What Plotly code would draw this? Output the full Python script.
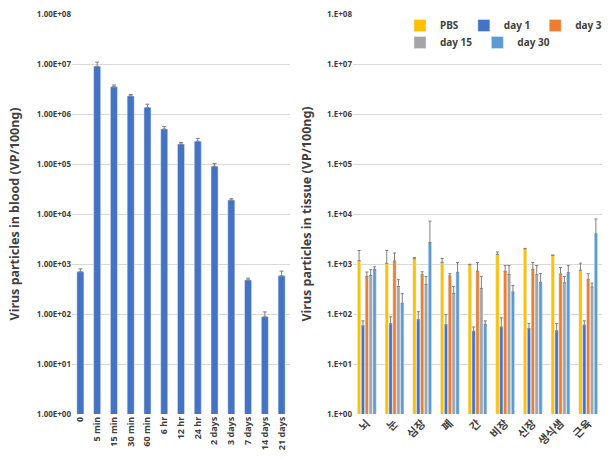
import plotly.graph_objects as go
from plotly.subplots import make_subplots

# ---------- data: blood ----------
time_labels = ['0', '5 min', '15 min', '30 min', '60 min', '6 hr', '12 hr', '24 hr',
               '2 days', '3 days', '7 days', '14 days', '21 days']
blood_vals = [700, 9.0e6, 3.5e6, 2.3e6, 1.35e6, 5.0e5, 2.5e5, 2.85e5, 9.0e4, 1.9e4, 480, 88, 580]
blood_err = [100, 1.9e6, 0.3e6, 0.15e6, 0.22e6, 0.6e5, 0.2e5, 0.4e5, 1.2e4, 0.12e4, 40, 22, 140]

# ---------- data: tissue ----------
tissues = ['뇌', '눈', '심장', '폐', '간', '비장', '신장', '생식샘', '근육']
series_names = ['PBS', 'day 1', 'day 3', 'day 15', 'day 30']
pbs = [1170, 1030, 1280, 1080, 970, 1560, 2000, 1490, 750]
pbs_err = [690, 840, 60, 210, 20, 180, 50, 20, 290]
day1 = [58, 64, 77, 61, 45, 55, 51, 46, 60]
day1_err = [15, 24, 34, 36, 10, 29, 14, 18, 13]
day3 = [565, 1150, 610, 575, 715, 715, 780, 630, 485]
day3_err = [125, 510, 90, 65, 355, 215, 290, 220, 155]
day15 = [590, 355, 390, 258, 325, 620, 610, 420, 345]
day15_err = [180, 130, 170, 97, 240, 315, 320, 145, 70]
day30 = [780, 163, 2700, 680, 62, 275, 430, 670, 3990]
day30_err = [100, 92, 4500, 390, 11, 95, 210, 260, 3960]

tick_vals = [1, 10, 100, 1e3, 1e4, 1e5, 1e6, 1e7, 1e8]
left_ticktext = ['1.00E+00', '1.00E+01', '1.00E+02', '1.00E+03', '1.00E+04',
                 '1.00E+05', '1.00E+06', '1.00E+07', '1.00E+08']
right_ticktext = ['1.E+00', '1.E+01', '1.E+02', '1.E+03', '1.E+04',
                  '1.E+05', '1.E+06', '1.E+07', '1.E+08']

colors = ['#FFC000', '#4472C4', '#ED7D31', '#A5A5A5', '#5B9BD5']
ERR_COLOR = '#7F7F7F'
FONT = 'Noto Sans, Noto Sans CJK KR, sans-serif'

fig = make_subplots(rows=1, cols=2, horizontal_spacing=0.12)

fig.add_trace(go.Bar(
    x=time_labels, y=blood_vals, marker_color='#4472C4', showlegend=False, width=0.42,
    error_y=dict(type='data', symmetric=False, array=blood_err,
                 arrayminus=[0] * len(blood_err), color=ERR_COLOR, thickness=1, width=2),
), row=1, col=1)

tissue_series = [(pbs, pbs_err), (day1, day1_err), (day3, day3_err),
                 (day15, day15_err), (day30, day30_err)]
for i, (name, (vals, errs)) in enumerate(zip(series_names, tissue_series)):
    fig.add_trace(go.Bar(
        x=tissues, y=vals, name=name, marker_color=colors[i],
        legend='legend' if i < 3 else 'legend2',
        error_y=dict(type='data', symmetric=False, array=errs,
                     arrayminus=[0] * len(errs), color=ERR_COLOR, thickness=1, width=1.5),
    ), row=1, col=2)

W, H = 611, 460
ml, mr, mt, mb = 72, 9, 14, 46
pw = W - ml - mr
ph = H - mt - mb
leg_common = dict(orientation='h', xanchor='left', yanchor='top',
                  itemwidth=30, font=dict(size=10, weight='bold', color='#404040'),
                  bgcolor='rgba(0,0,0,0)')
fig.update_layout(
    width=W, height=H,
    margin=dict(l=ml, r=mr, t=mt, b=mb, autoexpand=False),
    paper_bgcolor='white', plot_bgcolor='white',
    barmode='group', bargap=0.3, bargroupgap=0.15,
    font=dict(family=FONT, color='#404040'),
    legend=dict(x=(400 - ml) / pw, y=1 - (11 - mt) / ph, **leg_common),
    legend2=dict(x=(400 - ml) / pw, y=1 - (28 - mt) / ph, **leg_common),
)

fig.update_xaxes(domain=[0, (290 - ml) / pw], row=1, col=1)
fig.update_xaxes(domain=[(353 - ml) / pw, 1.0], row=1, col=2)

fig.update_xaxes(showgrid=False, showline=False, ticks='', tickangle=-90,
                 tickfont=dict(size=9, weight='bold', color='#404040'), row=1, col=1)
fig.update_xaxes(showgrid=False, showline=False, ticks='', tickangle=-45,
                 tickfont=dict(size=11, weight='bold', color='#404040',
                               family='Noto Sans CJK KR'), row=1, col=2)

for col, tt, title, so in [(1, left_ticktext, 'Virus particles in blood (VP/100ng)', 14),
                           (2, right_ticktext, 'Virus particles in tissue (VP/100ng)', 12)]:
    fig.update_yaxes(type='log', range=[0, 8], tickvals=tick_vals, ticktext=tt,
                     showgrid=True, gridcolor='#D9D9D9', gridwidth=1,
                     zeroline=False, showline=False, ticks='',
                     tickfont=dict(size=8, weight='bold', color='#404040'),
                     title=dict(text=title, font=dict(size=12.5, weight='bold', color='#404040'),
                                standoff=so),
                     row=1, col=col)

fig.write_html('out.html', post_script="document.body.style.margin='0';",
               config={'displayModeBar': False})
